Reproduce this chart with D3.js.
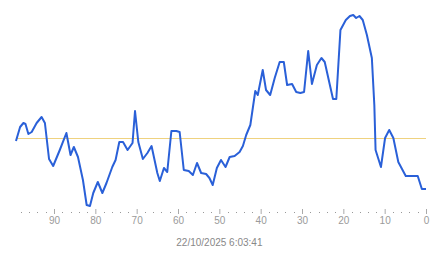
<!DOCTYPE html>
<html>
<head>
<meta charset="utf-8">
<script src="https://cdn.jsdelivr.net/npm/d3@7"></script>
<style>
  html, body { margin: 0; padding: 0; background: #fff; }
  svg { display: block; }
</style>
</head>
<body>
<div id="chart"></div>
<script>
// seconds ago (x) and level (y)
const secondsAgo = [99.2, 98.2, 97.4, 96.9, 96.2, 95.4, 94.2, 93.0, 92.2, 91.2,
    90.2, 88.6, 87.0, 86.0, 85.2, 84.2, 83.0, 82.1, 81.3, 80.5,
    79.4, 78.3, 77.3, 75.9, 75.1, 74.2, 73.3, 72.2, 71.0, 70.4,
    69.6, 68.5, 67.4, 66.4, 65.0, 64.4, 63.4, 62.6, 61.6, 60.4,
    59.6, 58.6, 57.4, 56.4, 55.4, 54.4, 53.2, 52.4, 51.6, 50.6,
    49.6, 48.5, 47.5, 46.3, 45.1, 44.3, 43.5, 42.5, 41.9, 41.3,
    40.7, 39.5, 38.7, 37.7, 36.6, 35.4, 34.4, 33.6, 32.4, 31.4,
    30.4, 29.5, 28.5, 27.6, 26.4, 25.3, 24.5, 22.5, 21.7, 20.7,
    19.4, 18.4, 17.6, 16.9, 16.1, 15.3, 14.3, 13.1, 12.5, 12.2,
    10.9, 9.9, 8.9, 7.9, 6.7, 4.9, 2.0, 1.0, 0];
const levels = [69, 83, 87, 86, 76, 78, 87, 93, 87, 51,
    44, 60, 77, 55, 63, 53, 30, 5, 4, 17,
    28, 17, 27, 43, 50, 68, 68, 60, 67, 99,
    68, 51, 57, 64, 37, 29, 42, 38, 79, 79,
    78, 40, 39, 35, 47, 37, 36, 32, 25, 42,
    50, 43, 53, 54, 58, 64, 75, 85, 102, 119,
    115, 140, 120, 115, 132, 148, 148, 125, 126, 118,
    117, 118, 159, 126, 145, 152, 148, 111, 111, 180,
    190, 194, 195, 192, 194, 190, 175, 152, 105, 60,
    43, 72, 80, 72, 48, 34, 34, 21, 21];
const threshold = 72;
const majorTicks = [90, 80, 70, 60, 50, 40, 30, 20, 10, 0];
const minorTicks = d3.range(98, 0, -2).filter(d => d % 10 !== 0);
const timeLabel = "22/10/2025 6:03:41";

const width = 443, height = 258;

const svg = d3.select("#chart")
    .append("svg")
    .attr("width", width)
    .attr("height", height);

const x = d3.scaleLinear().domain([99, 0]).range([16.8, 426]);
const y = d3.scaleLinear().domain([0, 200]).range([210, 10]);

// reference line
svg.append("line")
    .attr("x1", x(99)).attr("x2", x(0))
    .attr("y1", Math.round(y(threshold)) + 0.5)
    .attr("y2", Math.round(y(threshold)) + 0.5)
    .attr("stroke", "#efd27f")
    .attr("stroke-width", 1);

// main series
const points = secondsAgo.map((s, i) => [s, levels[i]]);
svg.append("path")
    .datum(points)
    .attr("fill", "none")
    .attr("stroke", "#2a60d8")
    .attr("stroke-width", 2)
    .attr("stroke-linejoin", "round")
    .attr("d", d3.line()
        .x(d => x(d[0]))
        .y(d => y(d[1])));

// x axis: major ticks with labels, minor dots
const axis = svg.append("g")
    .attr("transform", "translate(0,209)")
    .call(d3.axisBottom(x).tickValues(majorTicks).tickSize(5).tickPadding(3).tickFormat(d3.format("d")));
axis.select(".domain").remove();
axis.selectAll(".tick line").attr("stroke", "#aaa");
axis.selectAll(".tick text")
    .attr("fill", "#9a9a9a")
    .style("font-family", "'Liberation Sans', Arial, sans-serif")
    .style("font-size", "10px");

svg.append("g")
    .selectAll("rect")
    .data(minorTicks)
    .join("rect")
    .attr("x", d => Math.round(x(d)))
    .attr("y", 212)
    .attr("width", 1)
    .attr("height", 1)
    .attr("fill", "#999");

svg.append("text")
    .attr("x", (x(99) + x(0)) / 2 - 2)
    .attr("y", 246)
    .attr("text-anchor", "middle")
    .attr("fill", "#888")
    .style("font-family", "'Liberation Sans', Arial, sans-serif")
    .style("font-size", "10px")
    .text(timeLabel);
</script>
</body>
</html>
